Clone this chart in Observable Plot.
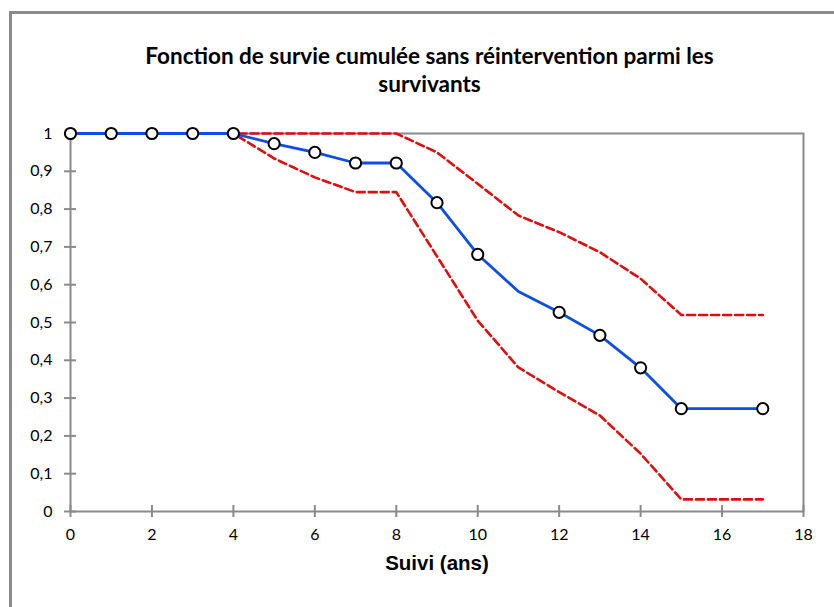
<!DOCTYPE html>
<html>
<head>
<meta charset="utf-8">
<script src="https://cdn.jsdelivr.net/npm/d3@7"></script>
<script src="https://cdn.jsdelivr.net/npm/@observablehq/plot@0.6"></script>
<style>
  html, body { margin: 0; padding: 0; background: #fff; }
  #wrap { position: relative; width: 834px; height: 607px; overflow: hidden; }
  #border { position: absolute; left: 9px; top: 11px; width: 900px; height: 700px;
            border-left: 3px solid #8a8a8a; border-top: 3px solid #8a8a8a; box-sizing: border-box; }
  #chart { position: absolute; left: 0; top: 0; }
</style>
</head>
<body>
<div id="wrap"><div id="border"></div><div id="chart"></div></div>
<script>
// Data
const years   = [0, 1, 2, 3, 4, 5, 6, 7, 8, 9, 10, 11, 12, 13, 14, 15, 17];
const survie  = [1, 1, 1, 1, 1, 0.973, 0.950, 0.922, 0.922, 0.817, 0.680, 0.582, 0.527, 0.466, 0.380, 0.272, 0.272];
const upper   = [1, 1, 1, 1, 1, 1, 1, 1, 1, 0.950, 0.867, 0.783, 0.739, 0.686, 0.616, 0.520, 0.520];
const lower   = [1, 1, 1, 1, 1, 0.934, 0.884, 0.845, 0.845, 0.675, 0.505, 0.381, 0.316, 0.254, 0.153, 0.032, 0.032];
const markerYears = [0, 1, 2, 3, 4, 5, 6, 7, 8, 9, 10, 12, 13, 14, 15, 17];
const xTicks = [0, 2, 4, 6, 8, 10, 12, 14, 16, 18];
const yTicks = [0, 0.1, 0.2, 0.3, 0.4, 0.5, 0.6, 0.7, 0.8, 0.9, 1];
const titleLines = ["Fonction de survie cumulée sans réintervention parmi les", "survivants"];
const xLabel = "Suivi (ans)";

const rows = years.map((x, i) => ({x, s: survie[i], u: upper[i], l: lower[i]}));
const markers = rows.filter(d => markerYears.includes(d.x));
const fmt = d => String(+d.toFixed(1)).replace(".", ",");
const font = "Lato, 'Open Sans', sans-serif";

const chart = Plot.plot({
  width: 834,
  height: 607,
  marginLeft: 70,
  marginRight: 31,
  marginTop: 133,
  marginBottom: 96,
  style: { fontFamily: font, fontSize: "16px", color: "#000", background: "transparent" },
  x: { domain: [0, 18] },
  y: { domain: [0, 1] },
  marks: [
    Plot.axisX({ ticks: xTicks, tickSize: 0, tickPadding: 17, tickFormat: fmt, label: null, fontSize: 16, fill: "#000" }),
    Plot.axisY({ ticks: yTicks, tickSize: 0, tickPadding: 18, tickFormat: fmt, label: null, fontSize: 16, fill: "#000" }),
    Plot.ruleY(yTicks, { y: d => d, x1: 0, x2: 0, insetLeft: -6, insetRight: -6, stroke: "#8a8a8a", strokeWidth: 2 }),
    Plot.ruleX(xTicks, { x: d => d, y1: 0, y2: 0, insetTop: -6, insetBottom: -6, stroke: "#8a8a8a", strokeWidth: 2 }),
    Plot.frame({ stroke: "#8a8a8a", strokeWidth: 2 }),
    Plot.line(rows, { x: "x", y: "u", stroke: "#e00d0d", strokeWidth: 2.6, strokeDasharray: "8,4" }),
    Plot.line(rows, { x: "x", y: "l", stroke: "#e00d0d", strokeWidth: 2.6, strokeDasharray: "8,4" }),
    Plot.line(rows, { x: "x", y: "s", stroke: "#0a4fe6", strokeWidth: 2.8 }),
    Plot.dot(markers, { x: "x", y: "s", r: 5.6, fill: "#fff", stroke: "#000", strokeWidth: 2 }),
    Plot.text([titleLines[0]], { text: d => d, frameAnchor: "top", dx: -7.5, dy: -85, fontSize: 22.5, fontWeight: "bold", fill: "#000" }),
    Plot.text([titleLines[1]], { text: d => d, frameAnchor: "top", dx: -7.5, dy: -57, fontSize: 22.5, fontWeight: "bold", fill: "#000" }),
    Plot.text([xLabel], { text: d => d, frameAnchor: "bottom", dx: 0, dy: 58, fontSize: 20.5, fontWeight: "bold", fontFamily: "'Liberation Sans', Arial, sans-serif", fill: "#000" })
  ]
});
document.getElementById("chart").appendChild(chart);
</script>
</body>
</html>
